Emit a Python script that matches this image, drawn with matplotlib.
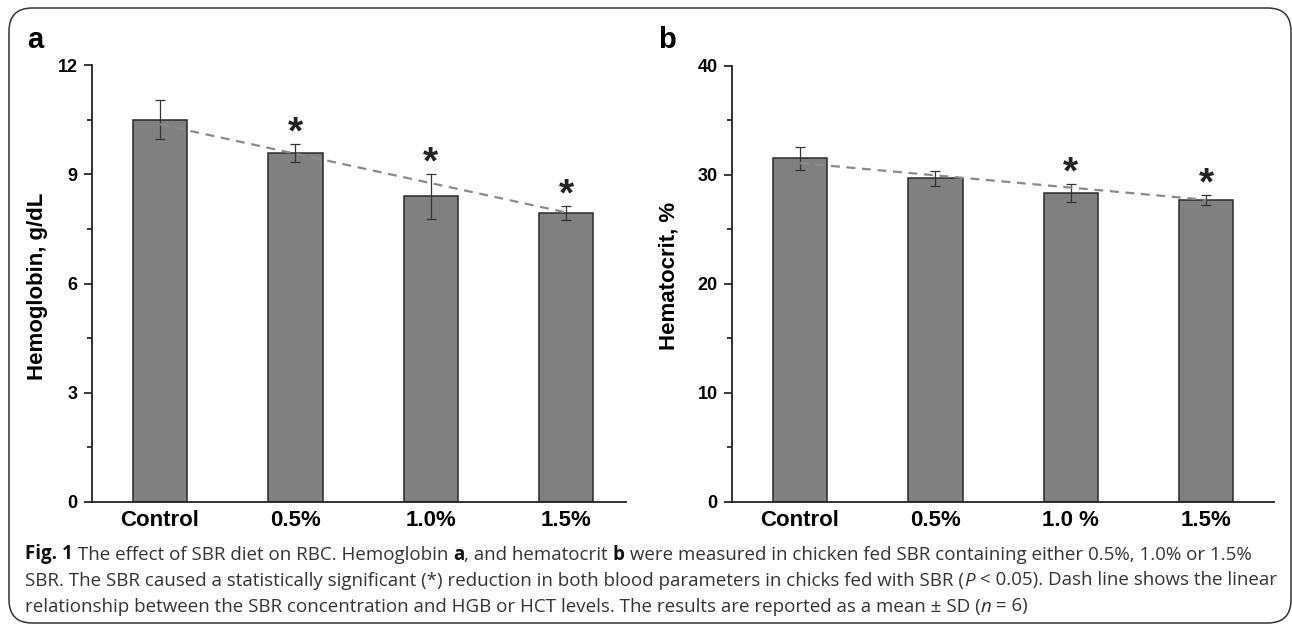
import matplotlib
matplotlib.use('Agg')
import matplotlib.pyplot as plt
from matplotlib.patches import FancyBboxPatch
from matplotlib.ticker import MultipleLocator

# ---------------- data ----------------
categories_a = ['Control', '0.5%', '1.0%', '1.5%']
categories_b = ['Control', '0.5%', '1.0 %', '1.5%']
hgb_mean = [10.50, 9.59, 8.40, 7.94]
hgb_sd = [0.54, 0.24, 0.62, 0.20]
hct_mean = [31.5, 29.7, 28.35, 27.68]
hct_sd = [1.08, 0.69, 0.85, 0.43]
hgb_sig = [False, True, True, True]
hct_sig = [False, False, True, True]
hgb_trend = [10.37, 7.95]   # dashed linear trend at Control and 1.5%
hct_trend = [31.07, 27.70]
ylabel_a = 'Hemoglobin, g/dL'
ylabel_b = 'Hematocrit, %'

W, H = 1292, 626
fig = plt.figure(figsize=(W / 100, H / 100), dpi=100)
plt.rcParams['font.family'] = ['Liberation Sans', 'DejaVu Sans']

BAR_C = '#808080'
EDGE_C = '#2b2b2b'


def make_panel(rect, cats, means, sds, sig, trend, ymax, major, minor, ylabel, xlim, lab_xy):
    ax = fig.add_axes(rect)
    x = list(range(len(cats)))
    ax.bar(x, means, width=0.40, color=BAR_C, edgecolor=EDGE_C, linewidth=1.1, zorder=2)
    ax.errorbar(x, means, yerr=sds, fmt='none', ecolor='#333333', elinewidth=0.9,
                capsize=3.4, capthick=0.9, zorder=3)
    ax.plot([x[0], x[-1]], trend, linestyle=(0, (4, 3)), color='#8a8a8a', linewidth=1.6, zorder=4)
    for xi, m, s, g in zip(x, means, sds, sig):
        if g:
            ax.annotate('*', xy=(xi, m + s), xytext=(0, 7.5), textcoords='offset points',
                        ha='center', va='center', fontsize=28, fontweight='bold', color='#222222',
                        zorder=5)
    ax.set_xlim(*xlim)
    ax.set_ylim(0, ymax)
    ax.yaxis.set_major_locator(MultipleLocator(major))
    ax.yaxis.set_minor_locator(MultipleLocator(minor))
    ax.set_xticks(x)
    ax.set_xticklabels(cats, fontsize=16, fontweight='bold')
    ax.tick_params(axis='x', length=0, pad=6)
    ax.tick_params(axis='y', which='major', direction='out', length=6, width=1.1, pad=4,
                   labelsize=13)
    ax.tick_params(axis='y', which='minor', direction='out', length=3.5, width=1.1)
    for lab in ax.get_yticklabels():
        lab.set_fontweight('bold')
    for side in ('top', 'right'):
        ax.spines[side].set_visible(False)
    for side in ('left', 'bottom'):
        ax.spines[side].set_linewidth(1.3)
        ax.spines[side].set_color('#222222')
    ax.set_ylabel(ylabel, fontsize=16, fontweight='bold')
    ax.yaxis.set_label_coords(*lab_xy)
    return ax


ax_a = make_panel([91.7 / W, 124 / H, 534.3 / W, 437 / H], categories_a, hgb_mean, hgb_sd,
                  hgb_sig, hgb_trend, 12, 3, 1.5, ylabel_a, (-0.504, 3.44), (-0.082, 0.493))
ax_b = make_panel([731.5 / W, 124 / H, 542.5 / W, 436.3 / H], categories_b, hct_mean, hct_sd,
                  hct_sig, hct_trend, 40, 10, 5, ylabel_b, (-0.506, 3.50), (-0.096, 0.518))

# panel letters
fig.text(27 / W, 1 - 48 / H, 'a', fontsize=21, fontweight='bold', ha='left', va='baseline')
fig.text(658 / W, 1 - 48 / H, 'b', fontsize=21, fontweight='bold', ha='left', va='baseline')

# rounded frame
frame = FancyBboxPatch((9 / W, 1 - 623 / H), (1291 - 9) / W, (623 - 8) / H,
                       boxstyle='round,pad=0,rounding_size=0.018', transform=fig.transFigure,
                       fill=False, edgecolor='#333333', linewidth=1.1, mutation_aspect=W / H)
fig.add_artist(frame)

# caption
cap_family = ['Open Sans', 'DejaVu Sans']
renderer = fig.canvas.get_renderer()


def measure(txt, size, weight, style):
    t = fig.text(0, 0, txt + '|', fontsize=size, family=cap_family, fontweight=weight,
                 fontstyle=style)
    w1 = t.get_window_extent(renderer).width
    t.remove()
    t = fig.text(0, 0, '|', fontsize=size, family=cap_family, fontweight=weight, fontstyle=style)
    w2 = t.get_window_extent(renderer).width
    t.remove()
    return w1 - w2


line1 = [('Fig. 1', 'bold', 'normal', '#111111'),
         (' The effect of SBR diet on RBC. Hemoglobin ', 'normal', 'normal', '#333333'),
         ('a', 'bold', 'normal', '#111111'),
         (', and hematocrit ', 'normal', 'normal', '#333333'),
         ('b', 'bold', 'normal', '#111111'),
         (' were measured in chicken fed SBR containing either 0.5%, 1.0% or 1.5%', 'normal',
          'normal', '#333333')]
line2 = [('SBR. The SBR caused a statistically significant (*) reduction in both blood '
          'parameters in chicks fed with SBR (', 'normal', 'normal', '#333333'),
         ('P', 'normal', 'italic', '#333333'),
         (' < 0.05). Dash line shows the linear', 'normal', 'normal', '#333333')]
line3 = [('relationship between the SBR concentration and HGB or HCT levels. The results are '
          'reported as a mean \u00b1 SD (', 'normal', 'normal', '#333333'),
         ('n', 'normal', 'italic', '#333333'),
         (' = 6)', 'normal', 'normal', '#333333')]

base_size = 12.8
w_line1 = sum(measure(t, base_size, wt, st) for t, wt, st, c in line1)
cap_size = base_size * (1250 - 25) / w_line1

for runs, yb in ((line1, 559.5), (line2, 585.5), (line3, 611.5)):
    xpos = 25.0
    for txt, wt, st, col in runs:
        fig.text(xpos / W, 1 - yb / H, txt, fontsize=cap_size, family=cap_family,
                 fontweight=wt, fontstyle=st, color=col, ha='left', va='baseline')
        xpos += measure(txt, cap_size, wt, st)

fig.savefig('out.png', dpi=100)
